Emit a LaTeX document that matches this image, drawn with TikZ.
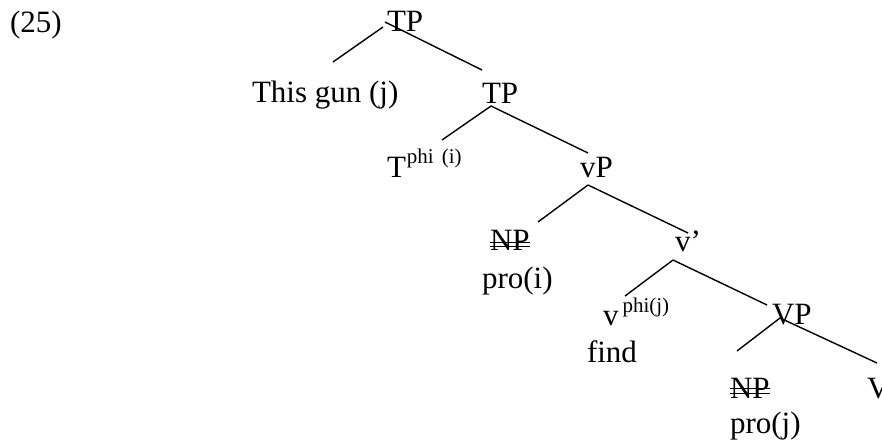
\documentclass[tikz,border=0pt]{standalone}
\usepackage{fontspec}
\setmainfont{Liberation Serif}
\newcommand{\supsz}{\fontsize{21}{21}\selectfont}
\begin{document}
\begin{tikzpicture}[x=1pt,y=-1pt,
  lbl/.style={inner sep=0pt,outer sep=0pt,anchor=base west,font=\fontsize{31}{37}\selectfont},
  branch/.style={line width=1.4pt,black},
  strike/.style={line width=0.9pt,black}]
\useasboundingbox (0,0) rectangle (882,443);
% labels
\node[lbl] (ex) at (10,33) {(25)};
\node[lbl] (tp1) at (387,32) {TP};
\node[lbl] (gun) at (252,103) {This gun (j)};
\node[lbl] (tp2) at (482,104) {TP};
\node[lbl] (t) at (387,178) {T\raisebox{14pt}{\supsz\hspace{1pt}phi\hspace{8pt}(i)}};
\node[lbl] (vp) at (580,178) {vP};
\node[lbl] (np1) at (490,251) {NP};
\node[lbl] (proi) at (482,288) {pro(i)};
\node[lbl] (vbar) at (675,252) {v’};
\node[lbl] (v) at (603,325) {v\raisebox{13pt}{\supsz\hspace{4pt}phi(j)}};
\node[lbl] (find) at (587,362) {find};
\node[lbl] (bigvp) at (772,324) {VP};
\node[lbl] (np2) at (730,398) {NP};
\node[lbl] (proj) at (730,433) {pro(j)};
\node[lbl] (bigv) at (867,398) {V};
% strike-through of NP
\draw[strike] ([yshift=9pt]np1.base west) -- ([yshift=9pt]np1.base east);
\draw[strike] ([yshift=5pt]np1.base west) -- ([yshift=5pt]np1.base east);
\draw[strike] ([yshift=9.5pt]np2.base west) -- ([yshift=9.5pt]np2.base east);
\draw[strike] ([yshift=5pt]np2.base west) -- ([yshift=5pt]np2.base east);
% branch end points
\coordinate (tp1l) at (383,27);
\coordinate (tp1r) at (385,22);
\coordinate (gunt) at (333,62);
\coordinate (tp2t) at (482,70);
\coordinate (tp2a) at (491,106);
\coordinate (tt) at (442,140);
\coordinate (vpt) at (588,153);
\coordinate (vpa) at (588,185);
\coordinate (np1t) at (538,222);
\coordinate (vbart) at (688,233);
\coordinate (vbara) at (673,260);
\coordinate (vt) at (625,296);
\coordinate (bigvpt) at (767,305);
\coordinate (bigvpa) at (780,318);
\coordinate (np2t) at (737,351);
\coordinate (bigvt) at (877,363);
% branches
\draw[branch] (tp1l) -- (gunt);
\draw[branch] (tp1r) -- (tp2t);
\draw[branch] (tp2a) -- (tt);
\draw[branch] (tp2a) -- (vpt);
\draw[branch] (vpa) -- (np1t);
\draw[branch] (vpa) -- (vbart);
\draw[branch] (vbara) -- (vt);
\draw[branch] (vbara) -- (bigvpt);
\draw[branch] (bigvpa) -- (np2t);
\draw[branch] (bigvpa) -- (bigvt);
\end{tikzpicture}
\end{document}
